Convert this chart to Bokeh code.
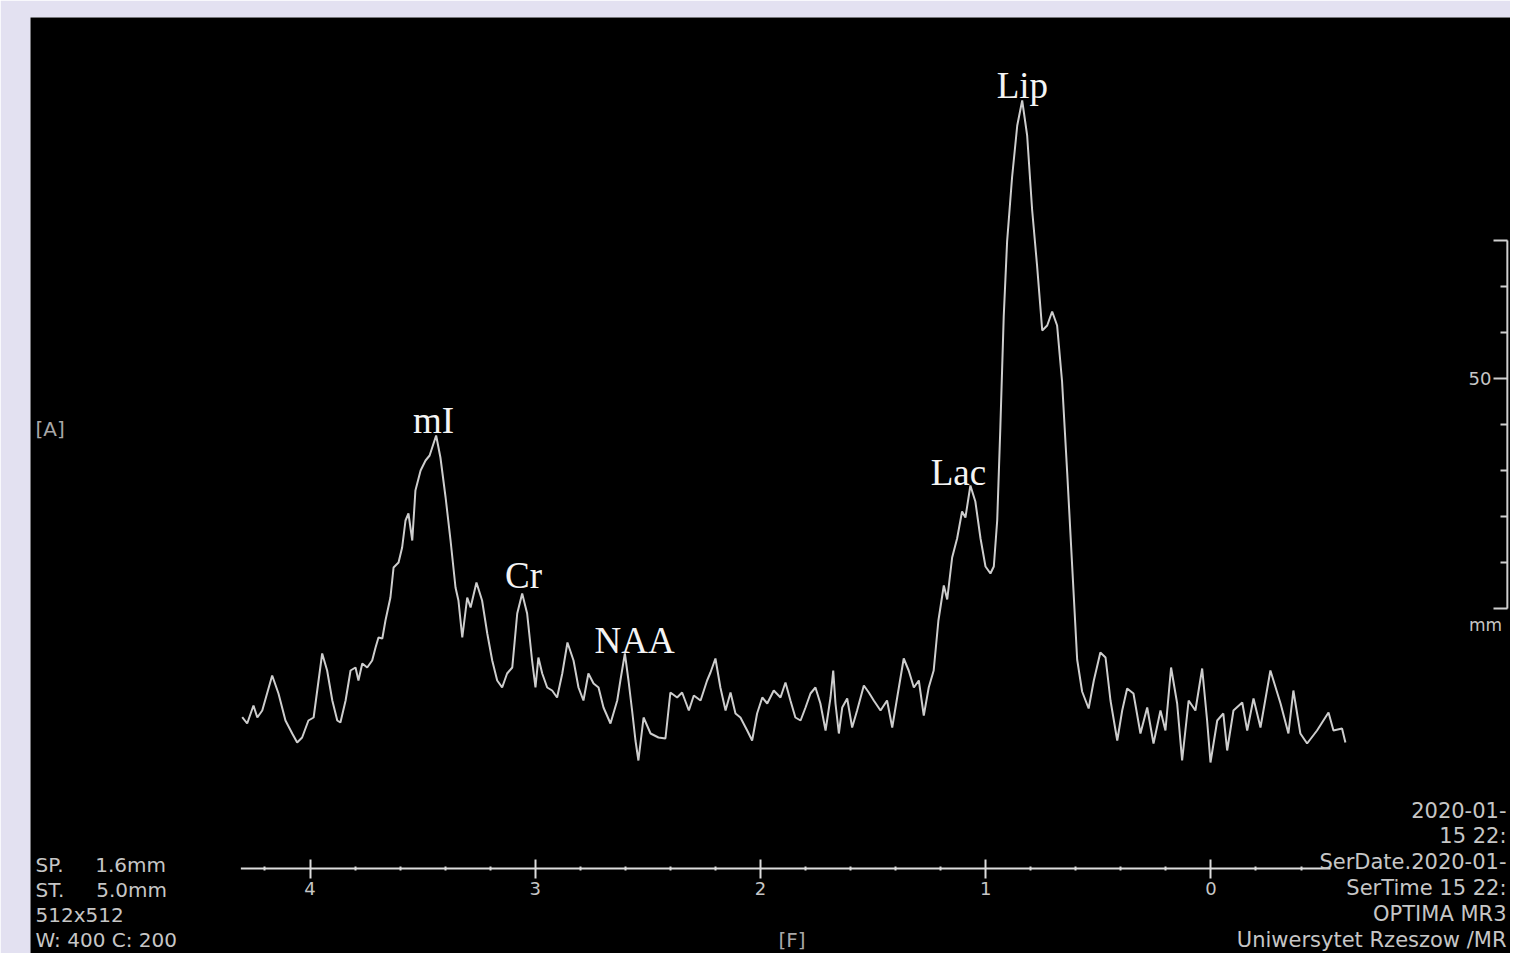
from bokeh.plotting import figure
from bokeh.models import Range1d, LinearAxis, FixedTicker, Label
from bokeh.core.properties import value
from bokeh.embed import file_html
from bokeh.resources import INLINE

# ---- spectrum (chemical shift in ppm, intensity in a.u.) ----
ppm = [4.301, 4.279, 4.251, 4.234, 4.212, 4.168, 4.140, 4.109, 4.079, 4.057,
       4.035, 4.007, 3.984, 3.946, 3.924, 3.901, 3.879, 3.865, 3.842, 3.820,
       3.798, 3.785, 3.768, 3.746, 3.724, 3.709, 3.696, 3.679, 3.665, 3.643,
       3.629, 3.607, 3.591, 3.576, 3.563, 3.546, 3.532, 3.509, 3.487, 3.469,
       3.440, 3.421, 3.398, 3.376, 3.354, 3.341, 3.324, 3.302, 3.287, 3.261,
       3.236, 3.213, 3.191, 3.169, 3.147, 3.125, 3.102, 3.080, 3.058, 3.036,
       3.014, 2.999, 2.986, 2.969, 2.947, 2.925, 2.903, 2.880, 2.857, 2.830,
       2.808, 2.786, 2.764, 2.741, 2.719, 2.697, 2.666, 2.636, 2.622, 2.602,
       2.586, 2.570, 2.555, 2.542, 2.519, 2.488, 2.453, 2.422, 2.400, 2.370,
       2.348, 2.318, 2.296, 2.266, 2.237, 2.222, 2.200, 2.178, 2.155, 2.133,
       2.111, 2.089, 2.059, 2.037, 2.015, 1.992, 1.970, 1.941, 1.911, 1.889,
       1.867, 1.845, 1.822, 1.800, 1.778, 1.756, 1.734, 1.711, 1.689, 1.677,
       1.667, 1.652, 1.637, 1.615, 1.593, 1.571, 1.541, 1.519, 1.497, 1.467,
       1.438, 1.415, 1.393, 1.364, 1.342, 1.319, 1.297, 1.275, 1.253, 1.231,
       1.210, 1.186, 1.171, 1.149, 1.127, 1.105, 1.090, 1.068, 1.046, 1.023,
       1.001, 0.979, 0.964, 0.949, 0.935, 0.920, 0.905, 0.883, 0.860, 0.838,
       0.816, 0.794, 0.772, 0.749, 0.727, 0.705, 0.683, 0.661, 0.638, 0.616,
       0.594, 0.572, 0.543, 0.520, 0.491, 0.468, 0.446, 0.416, 0.394, 0.372,
       0.344, 0.313, 0.283, 0.255, 0.224, 0.202, 0.177, 0.150, 0.128, 0.099,
       0.069, 0.039, 0.017, 0.002, -0.028, -0.055, -0.072, -0.100, -0.139, -0.161,
       -0.189, -0.220, -0.264, -0.309, -0.344, -0.366, -0.397, -0.427, -0.471, -0.522,
       -0.544, -0.582, -0.597]
intensity = [21.7, 18.5, 27.5, 21.5, 25, 42.5, 33.5, 20, 13.5, 9,
             11.5, 20, 21.5, 53.5, 45, 30, 20, 19, 30, 45,
             46.5, 40, 48.5, 46.5, 50, 56.5, 61.5, 61, 70, 81.5,
             96.5, 99, 106.5, 120, 123.5, 110, 135, 145, 150, 152.5,
             162.5, 151.5, 131.5, 110, 86.5, 80, 61.5, 81.5, 76.5, 89,
             80, 63.5, 50, 40, 36.5, 43.5, 46.5, 73.5, 83.5, 73.5,
             50, 36.5, 51.5, 43.5, 36.5, 35, 31.5, 43.5, 59, 50,
             36.5, 30, 43.5, 38.5, 36.5, 26.5, 18.5, 30, 40, 53.5,
             40, 25, 10, 0, 21.5, 13.5, 11.5, 11, 34, 31.5,
             34, 25, 32.5, 30, 40, 44, 51, 36.5, 25, 34,
             23.5, 21.5, 15, 10, 23.5, 31.5, 28.5, 35, 31.5, 39,
             30, 21.5, 20, 26.5, 33.5, 36.5, 28.5, 15, 31.5, 45,
             28.5, 13.5, 26.5, 31, 16.5, 25, 37.5, 34, 30, 25,
             30, 16.5, 31.5, 51, 45, 36.5, 40, 22.5, 36.5, 45,
             70, 87.5, 80.5, 101.5, 111, 124.5, 121.5, 137.5, 129.5, 111,
             97, 93.5, 97, 120, 166.5, 222, 259.5, 291.5, 317.5, 330,
             312.5, 275.5, 247.5, 215, 217.5, 224.5, 217.5, 189.5, 143.5, 97,
             50.5, 34.5, 26, 40, 54, 51.5, 30, 10, 25, 36,
             33.5, 13.5, 26.5, 8.5, 25, 15, 46.5, 28.5, 0, 30,
             25, 46, 20, -1, 20, 23.5, 5, 25, 29, 15,
             31, 16.5, 45, 28.5, 13.5, 35, 13.5, 8.5, 15, 24,
             15, 16, 9]

# ---- peak labels ----
peak_labels = ["mI", "Cr", "NAA", "Lac", "Lip"]
peak_label_ppm = [3.452, 3.052, 2.559, 1.121, 0.837]
peak_label_amp = [170, 92.5, 60, 144, 337.5]

# ---- scales / ticks ----
ppm_major_ticks = [0, 1, 2, 3, 4]
ppm_minor_ticks = [-0.4, -0.2, 0.2, 0.4, 0.6, 0.8, 1.2, 1.4, 1.6, 1.8,
                   2.2, 2.4, 2.6, 2.8, 3.2, 3.4, 3.6, 3.8, 4.2]
ppm_axis_span = [4.307, -0.531]
ppm_axis_level = -54

mm_major_ticks = [0, 50, 80]
mm_minor_ticks = [10, 20, 30, 40, 60, 70]
mm_ruler_ppm = -1.316

NB = "\u00a0"
left_info = ["SP." + NB * 5 + "1.6mm", "ST." + NB * 5 + "5.0mm", "512x512",
             "W: 400 C: 200"]
right_info = ["2020-01-", "15 22:", "SerDate.2020-01-",
              "SerTime 15 22:", "OPTIMA MR3", "Uniwersytet Rzeszow /MR"]

LINE = "#cdcdcd"
GREY_TXT = "#c6c6c6"
SANS = "DejaVu Sans"

p = figure(width=1510, height=953, output_backend="svg", toolbar_location=None,
           x_range=Range1d(5.241, -1.330), y_range=Range1d(-96.5, 371.5),
           x_axis_type=None, y_axis_type=None,
           min_border_left=30, min_border_top=17, min_border_right=0, min_border_bottom=0,
           background_fill_color="black", border_fill_color="#e3e1f1",
           outline_line_color=None)
p.extra_y_ranges = {"mm": Range1d(-75.0, 128.5)}

# spectrum
p.line(ppm, intensity, line_color=LINE, line_width=2)

# peak labels
p.text(x=peak_label_ppm, y=peak_label_amp, text=peak_labels,
       text_font=value("Liberation Serif"), text_font_size="37px",
       text_color="#f4f4f4", text_align="center", text_baseline="alphabetic")

# ppm axis (inside the panel)
p.segment(x0=[ppm_axis_span[0]], y0=[ppm_axis_level], x1=[ppm_axis_span[1]],
          y1=[ppm_axis_level], line_color="#dcdcdc", line_width=2)
xaxis = LinearAxis(fixed_location=ppm_axis_level,
                   ticker=FixedTicker(ticks=ppm_major_ticks, minor_ticks=ppm_minor_ticks),
                   axis_line_color=None,
                   major_tick_line_color="#dcdcdc", major_tick_line_width=2,
                   major_tick_in=9, major_tick_out=10,
                   minor_tick_line_color="#dcdcdc", minor_tick_line_width=2,
                   minor_tick_in=2, minor_tick_out=2,
                   major_label_text_color=GREY_TXT, major_label_text_font=SANS,
                   major_label_text_font_size="18px", major_label_standoff=3)
p.add_layout(xaxis, "below")

# mm ruler on the right
p.segment(x0=[mm_ruler_ppm], y0=[mm_major_ticks[0]], x1=[mm_ruler_ppm],
          y1=[mm_major_ticks[-1]], line_color="#cfcfcf", line_width=2, y_range_name="mm")
mm_axis = LinearAxis(y_range_name="mm", fixed_location=mm_ruler_ppm,
                     ticker=FixedTicker(ticks=mm_major_ticks, minor_ticks=mm_minor_ticks),
                     axis_line_color=None,
                     major_tick_line_color="#cfcfcf", major_tick_line_width=2,
                     major_tick_in=0, major_tick_out=14,
                     minor_tick_line_color="#cfcfcf", minor_tick_line_width=2,
                     minor_tick_in=0, minor_tick_out=7,
                     major_label_overrides={0: "", 50: "50", 80: ""},
                     major_label_text_color=GREY_TXT, major_label_text_font=SANS,
                     major_label_text_font_size="18px", major_label_standoff=2)
p.add_layout(mm_axis, "left")
p.text(x=[-1.219], y=[-3.5], text=["mm"], y_range_name="mm", text_color=GREY_TXT,
       text_font=value(SANS), text_font_size="17px", text_align="center",
       text_baseline="middle")

# info text (screen units, from the frame's bottom-left corner)
left_y = [89, 64, 39, 14]
for t, sy in zip(left_info, left_y):
    p.add_layout(Label(x=5, y=sy, x_units="screen", y_units="screen", text=t,
                       text_color=GREY_TXT, text_font=SANS, text_font_size="20px",
                       text_baseline="middle", text_align="left"))
right_y = [144, 118, 92, 66, 40, 14]
for t, sy in zip(right_info, right_y):
    p.add_layout(Label(x=1476, y=sy, x_units="screen", y_units="screen", text=t,
                       text_color=GREY_TXT, text_font=SANS, text_font_size="21px",
                       text_baseline="middle", text_align="right"))
p.add_layout(Label(x=5, y=525, x_units="screen", y_units="screen", text="[A]",
                   text_color="#a8a8a8", text_font=SANS, text_font_size="20px",
                   text_baseline="middle", text_align="left"))
p.add_layout(Label(x=748, y=14, x_units="screen", y_units="screen", text="[F]",
                   text_color="#a8a8a8", text_font=SANS, text_font_size="20px",
                   text_baseline="middle", text_align="left"))

open("out.html", "w").write(file_html(p, INLINE))
